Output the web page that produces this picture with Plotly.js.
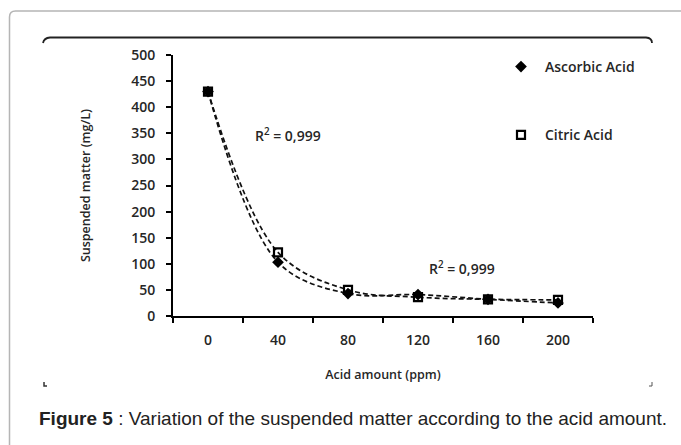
<!DOCTYPE html>
<html>
<head>
<meta charset="utf-8">
<script src="https://cdn.plot.ly/plotly-3.0.1.min.js"></script>
<style>html,body{margin:0;padding:0;background:#fff;}#chart{width:681px;height:445px;}</style>
</head>
<body>
<div id="chart"></div>
<script>
// ---- data ----
const acidAmount = ["0", "40", "80", "120", "160", "200"];
const ascorbicAcid = [430, 103, 43, 41, 32, 25];
const citricAcid = [430, 122, 50, 36, 32, 31];
const seriesNames = ["Ascorbic Acid", "Citric Acid"];
const r2Labels = ["R<sup>2</sup> = 0,999", "R<sup>2</sup> = 0,999"];
const yTicks = [0, 50, 100, 150, 200, 250, 300, 350, 400, 450, 500];

// ---- layout helpers (pixel -> paper) ----
const W = 681, H = 445, L = 173, R = 88, T = 55, B = 129;
const pw = W - L - R, ph = H - T - B;
const px = x => (x - L) / pw;
const py = y => (H - B - y) / ph;
const chartFont = "Open Sans, DejaVu Sans, sans-serif";
const txt = "#262626";

const traces = [
  {x: acidAmount, y: ascorbicAcid, mode: "lines", line: {shape: "spline", dash: "5px,3px", color: "#111", width: 1.7}, showlegend: false, hoverinfo: "skip"},
  {x: acidAmount, y: citricAcid, mode: "lines", line: {shape: "spline", dash: "5px,3px", color: "#111", width: 1.7}, showlegend: false, hoverinfo: "skip"},
  {x: acidAmount, y: ascorbicAcid, mode: "markers", name: seriesNames[0], legendgroup: "a",
   marker: {symbol: "diamond", size: 9, color: "#000"}},
  {x: acidAmount, y: citricAcid, mode: "markers", name: seriesNames[1], legendgroup: "c",
   marker: {symbol: "square-open", size: 8, color: "#000", line: {width: 2.2, color: "#000"}}}
];

function seg(pts) { return pts.map((p, i) => (i ? "L" : "M") + px(p[0]).toFixed(4) + "," + py(p[1]).toFixed(4)).join(" "); }

const shapes = [
  {type: "path", xref: "paper", yref: "paper",
   path: "M" + px(9.5) + "," + py(460) + " L" + px(9.5) + "," + py(17) + " Q" + px(9.5) + "," + py(11) + " " + px(15.5) + "," + py(11) + " L" + px(700) + "," + py(11),
   line: {color: "#b5b5b5", width: 1.5}},
  {type: "path", xref: "paper", yref: "paper",
   path: "M" + px(43) + "," + py(43) + " Q" + px(44) + "," + py(38) + " " + px(50) + "," + py(37.5) + " L" + px(646) + "," + py(37.5) + " Q" + px(652) + "," + py(38) + " " + px(652) + "," + py(43),
   line: {color: "#222", width: 1.8}},
  {type: "path", xref: "paper", yref: "paper", path: seg([[44, 382], [44, 386], [47, 386]]), line: {color: "#333", width: 1.5}},
  {type: "path", xref: "paper", yref: "paper", path: seg([[649, 386], [652, 386], [652, 382]]), line: {color: "#555", width: 1}}
];

const annotations = [
  {xref: "paper", yref: "paper", x: px(288), y: py(135), xanchor: "center", yanchor: "middle", text: r2Labels[0], showarrow: false, font: {family: chartFont, size: 14, color: txt, weight: 600}},
  {xref: "paper", yref: "paper", x: px(462), y: py(268), xanchor: "center", yanchor: "middle", text: r2Labels[1], showarrow: false, font: {family: chartFont, size: 14, color: txt, weight: 600}},
  {xref: "paper", yref: "paper", x: px(37), y: py(418), xanchor: "left", yanchor: "middle", showarrow: false,
   text: "<b>Figure 5</b> : Variation of the suspended matter according to the acid amount.",
   font: {family: "Liberation Sans, Arial, sans-serif", size: 19, color: "#222"}}
];

const layout = {
  width: W, height: H,
  margin: {l: L, r: R, t: T, b: B, pad: 0},
  paper_bgcolor: "#fff", plot_bgcolor: "#fff",
  showlegend: true,
  legend: {x: px(497), y: py(51), xanchor: "left", yanchor: "top", tracegroupgap: 47, itemwidth: 38,
           font: {family: chartFont, size: 14, color: txt, weight: 600}, bgcolor: "rgba(0,0,0,0)"},
  xaxis: {type: "category", range: [-0.5, 5.5], showline: true, linecolor: "#000", linewidth: 2,
          ticks: "outside", tickson: "boundaries", ticklen: 5, tickwidth: 2, tickcolor: "#000",
          showgrid: false, zeroline: false, ticklabelstandoff: 10,
          tickfont: {family: chartFont, size: 14, color: txt, weight: 600},
          title: {text: "Acid amount (ppm)", standoff: 22, font: {family: chartFont, size: 12.5, color: txt, weight: 600}}},
  yaxis: {range: [0, 500], tickvals: yTicks, showline: true, linecolor: "#000", linewidth: 2,
          ticks: "outside", ticklen: 5, tickwidth: 2, tickcolor: "#000",
          showgrid: false, zeroline: false, ticklabelstandoff: 8,
          tickfont: {family: chartFont, size: 14, color: txt, weight: 600},
          title: {text: "Suspended matter (mg/L)", standoff: 38, font: {family: chartFont, size: 12.5, color: txt, weight: 600}}},
  shapes: shapes,
  annotations: annotations
};

Plotly.newPlot("chart", traces, layout, {displayModeBar: false, staticPlot: true});
</script>
</body>
</html>
